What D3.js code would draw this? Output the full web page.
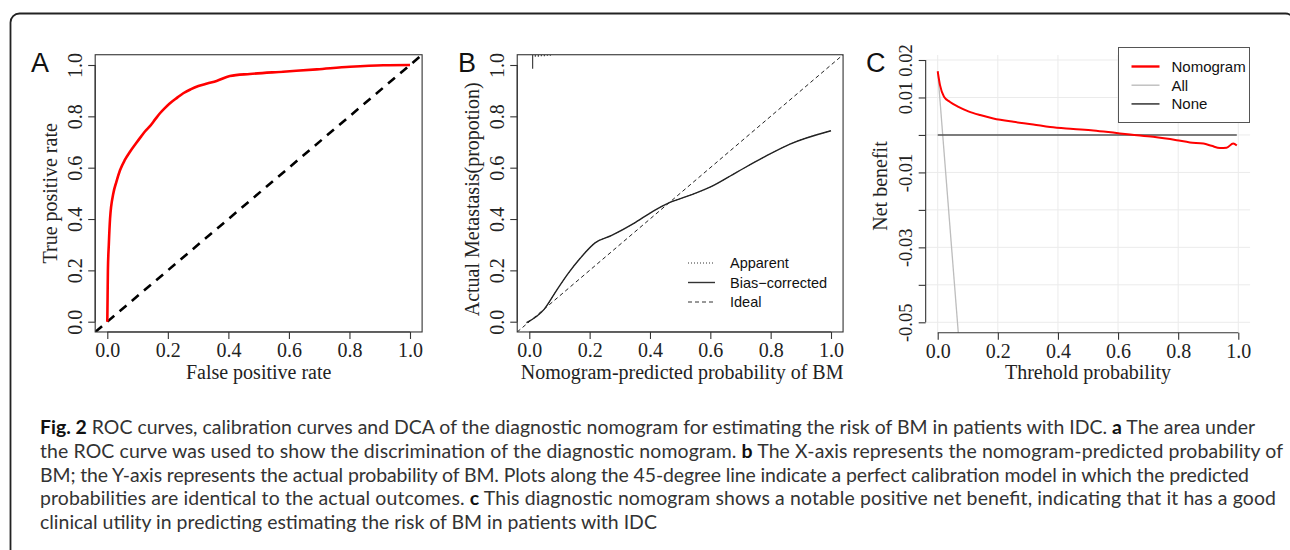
<!DOCTYPE html>
<html>
<head>
<meta charset="utf-8">
<script src="https://cdn.jsdelivr.net/npm/d3@7"></script>
<style>
  html, body { margin: 0; padding: 0; background: #fff; }
  svg { display: block; }
</style>
</head>
<body>
<div id="chart"></div>
<script>
// ---- data ----
const rocFpr = [0, 0.001, 0.002, 0.005, 0.009, 0.02, 0.03, 0.042, 0.058, 0.075, 0.095, 0.112, 0.125, 0.141, 0.158, 0.174, 0.19, 0.207, 0.23, 0.251, 0.275, 0.301, 0.33, 0.361, 0.405, 0.471, 0.581, 0.692, 0.802, 0.912, 1.0];
const rocTpr = [0, 0.10, 0.20, 0.30, 0.40, 0.50, 0.545, 0.590, 0.630, 0.662, 0.695, 0.722, 0.742, 0.762, 0.788, 0.812, 0.832, 0.851, 0.872, 0.890, 0.905, 0.918, 0.928, 0.938, 0.957, 0.965, 0.974, 0.983, 0.993, 0.999, 1.0];

const calPred = [-0.009, 0.049, 0.091, 0.129, 0.168, 0.218, 0.273, 0.345, 0.411, 0.461, 0.522, 0.599, 0.687, 0.776, 0.864, 1.0];
const calBias = [-0.004, 0.048, 0.123, 0.188, 0.246, 0.307, 0.336, 0.382, 0.431, 0.462, 0.488, 0.524, 0.582, 0.640, 0.692, 0.744];
const calApparent = [-0.004, 0.048, 0.123, 0.188, 0.246, 0.307, 0.336, 0.382, 0.431, 0.462, 0.488, 0.524, 0.582, 0.640, 0.692, 0.744];
const rugPred = [0.011, 0.02, 0.03, 0.04, 0.05, 0.06, 0.07];
const rugCount = [14, 2, 2, 1.5, 1.5, 1, 1];

const dcaThreshold = [0, 0.0077, 0.021, 0.041, 0.069, 0.102, 0.141, 0.185, 0.252, 0.318, 0.374, 0.451, 0.518, 0.595, 0.640, 0.717, 0.795, 0.839, 0.884, 0.911, 0.939, 0.961, 0.983, 0.995];
const dcaNomogram = [0.0170, 0.0133, 0.0102, 0.0088, 0.0075, 0.0063, 0.0053, 0.0044, 0.0035, 0.0028, 0.0021, 0.0016, 0.0012, 0.0005, 0.0001, -0.0005, -0.0014, -0.0020, -0.0023, -0.0029, -0.0035, -0.0034, -0.0023, -0.0028];
const dcaAllX = [0, 0.0685];
const dcaAllY = [0.017, -0.0528];
const dcaNoneX = [0, 0.995];
const dcaNoneY = [0, 0];

const probTicks = [0, 0.2, 0.4, 0.6, 0.8, 1.0];
const nbTicks = [0.02, 0.01, 0, -0.01, -0.02, -0.03, -0.04, -0.05];
const nbLabels = { "2": "0.02", "1": "0.01", "-1": "-0.01", "-3": "-0.03", "-5": "-0.05" };

const calLegend = ["Apparent", "Bias\u2212corrected", "Ideal"];
const dcaLegend = ["Nomogram", "All", "None"];

const captionLines = [
  [["Fig. 2", true], [" ROC curves, calibration curves and DCA of the diagnostic nomogram for estimating the risk of BM in patients with IDC. ", false], ["a", true], [" The area under", false]],
  [["the ROC curve was used to show the discrimination of the diagnostic nomogram. ", false], ["b", true], [" The X-axis represents the nomogram-predicted probability of", false]],
  [["BM; the Y-axis represents the actual probability of BM. Plots along the 45-degree line indicate a perfect calibration model in which the predicted", false]],
  [["probabilities are identical to the actual outcomes. ", false], ["c", true], [" This diagnostic nomogram shows a notable positive net benefit, indicating that it has a good", false]],
  [["clinical utility in predicting estimating the risk of BM in patients with IDC", false]]
];
const captionEnds = [1255, 1283, 1249, 1276, null];

// ---- layout ----
const W = 1290, H = 550;
const serif = "'Liberation Serif', 'Times New Roman', serif";
const sans = "'Liberation Sans', Arial, sans-serif";
const fs = 20;

const svg = d3.select("#chart").append("svg")
  .attr("width", W).attr("height", H)
  .attr("viewBox", [0, 0, W, H]);

svg.append("rect")
  .attr("x", 10.5).attr("y", 13.5)
  .attr("width", 1284).attr("height", 700)
  .attr("rx", 9)
  .attr("fill", "none")
  .attr("stroke", "#222")
  .attr("stroke-width", 1.8);

const defs = svg.append("defs");

// R-like axis: ticks outward, line from first to last tick
function rAxis(g, axis, ticks, scale, orient, size = fs) {
  g.call(axis.tickValues(ticks).tickSizeOuter(0).tickSize(7));
  g.select(".domain").remove();
  g.selectAll("line").attr("stroke", "#333").attr("stroke-width", 1.1);
  const ext = d3.extent(ticks.map(scale));
  const l = g.append("line").attr("stroke", "#333").attr("stroke-width", 1.1);
  if (orient === "bottom") l.attr("x1", ext[0]).attr("x2", ext[1]);
  else l.attr("y1", ext[0]).attr("y2", ext[1]);
  g.selectAll("text")
    .attr("font-family", serif).attr("font-size", size).attr("fill", "#222");
  if (orient === "bottom") {
    g.selectAll("text").attr("y", 25).attr("dy", 0);
  } else {
    g.selectAll("text")
      .attr("transform", "rotate(-90)")
      .attr("x", 0).attr("y", -13.5).attr("dy", 0)
      .attr("text-anchor", "middle");
  }
  g.attr("font-family", null).attr("font-size", null);
}

function panel(opts) {
  const { top, bottom, left, right, id } = opts;
  const g = svg.append("g");
  defs.append("clipPath").attr("id", id)
    .append("rect").attr("x", left).attr("y", top)
    .attr("width", right - left).attr("height", bottom - top);
  return g;
}

function titles(g, letter, letterX, xTitle, xMid, yTitle, axisX, yMid) {
  g.append("text").attr("x", letterX).attr("y", 72)
    .attr("font-family", sans).attr("font-size", 27).attr("fill", "#111").text(letter);
  g.append("text").attr("x", xMid).attr("y", 379)
    .attr("text-anchor", "middle")
    .attr("font-family", serif).attr("font-size", fs).attr("fill", "#222").text(xTitle);
  g.append("text")
    .attr("transform", `translate(${axisX - 38.5},${yMid}) rotate(-90)`)
    .attr("text-anchor", "middle")
    .attr("font-family", serif).attr("font-size", fs).attr("fill", "#222").text(yTitle);
}

// ---- panel A: ROC ----
{
  const x = d3.scaleLinear().domain([0, 1]).range([107.3, 410]);
  const y = d3.scaleLinear().domain([0, 1]).range([321.7, 65]);
  const left = x(-0.04), right = x(1.04), top = y(1.04), bottom = y(-0.04);
  const g = panel({ top, bottom, left, right, id: "clipA" });

  const plot = g.append("g").attr("clip-path", "url(#clipA)");
  plot.append("path")
    .datum([[-0.04, -0.04], [1.04, 1.04]])
    .attr("d", d3.line().x(d => x(d[0])).y(d => y(d[1])))
    .attr("fill", "none").attr("stroke", "#000")
    .attr("stroke-width", 2.6).attr("stroke-dasharray", "9,7");
  plot.append("path")
    .datum(d3.zip(rocFpr, rocTpr))
    .attr("d", d3.line().x(d => x(d[0])).y(d => y(d[1])).curve(d3.curveMonotoneX))
    .attr("fill", "none").attr("stroke", "#ff0000").attr("stroke-width", 2.6);

  g.append("rect").attr("x", left).attr("y", top)
    .attr("width", right - left).attr("height", bottom - top)
    .attr("fill", "none").attr("stroke", "#333").attr("stroke-width", 1.1);

  g.append("g").attr("transform", `translate(0,${bottom})`)
    .call(s => rAxis(s, d3.axisBottom(x).tickFormat(d3.format(".1f")), probTicks, x, "bottom"));
  g.append("g").attr("transform", `translate(${left},0)`)
    .call(s => rAxis(s, d3.axisLeft(y).tickFormat(d3.format(".1f")), probTicks, y, "left"));

  titles(g, "A", 31, "False positive rate", (x(0) + x(1)) / 2, "True positive rate", left, (top + bottom) / 2);
}

// ---- panel B: calibration ----
{
  const x = d3.scaleLinear().domain([0, 1]).range([529.3, 831]);
  const y = d3.scaleLinear().domain([0, 1]).range([321.7, 65]);
  const left = x(-0.04), right = x(1.04), top = y(1.04), bottom = y(-0.04);
  const g = panel({ top, bottom, left, right, id: "clipB" });
  const plot = g.append("g").attr("clip-path", "url(#clipB)");

  plot.append("path")
    .datum([[-0.04, -0.04], [1.04, 1.04]])
    .attr("d", d3.line().x(d => x(d[0])).y(d => y(d[1])))
    .attr("fill", "none").attr("stroke", "#222")
    .attr("stroke-width", 1).attr("stroke-dasharray", "4,3");

  const line = d3.line().x(d => x(d[0])).y(d => y(d[1])).curve(d3.curveMonotoneX);
  plot.append("path").datum(d3.zip(calPred, calApparent))
    .attr("d", line).attr("fill", "none").attr("stroke", "#444")
    .attr("stroke-width", 1).attr("stroke-dasharray", "1,2");
  plot.append("path").datum(d3.zip(calPred, calBias))
    .attr("d", line).attr("fill", "none").attr("stroke", "#222").attr("stroke-width", 1.4);

  // spike histogram of predictions along the top
  const h = d3.scaleLinear().domain([0, d3.max(rugCount)]).range([0, 14]);
  plot.selectAll("line.rug").data(d3.zip(rugPred, rugCount)).join("line")
    .attr("class", "rug")
    .attr("x1", d => x(d[0])).attr("x2", d => x(d[0]))
    .attr("y1", top).attr("y2", d => top + h(d[1]))
    .attr("stroke", "#444").attr("stroke-width", 1.2);

  g.append("rect").attr("x", left).attr("y", top)
    .attr("width", right - left).attr("height", bottom - top)
    .attr("fill", "none").attr("stroke", "#333").attr("stroke-width", 1.1);

  g.append("g").attr("transform", `translate(0,${bottom})`)
    .call(s => rAxis(s, d3.axisBottom(x).tickFormat(d3.format(".1f")), probTicks, x, "bottom"));
  g.append("g").attr("transform", `translate(${left},0)`)
    .call(s => rAxis(s, d3.axisLeft(y).tickFormat(d3.format(".1f")), probTicks, y, "left"));

  const lg = g.append("g");
  const dashes = ["1,2", null, "4,3"];
  calLegend.forEach((t, i) => {
    const ly = 263 + i * 19.5;
    lg.append("line").attr("x1", 688).attr("x2", 715).attr("y1", ly).attr("y2", ly)
      .attr("stroke", "#333").attr("stroke-width", i === 1 ? 1.4 : 1)
      .attr("stroke-dasharray", dashes[i]);
    lg.append("text").attr("x", 730).attr("y", ly + 5)
      .attr("font-family", sans).attr("font-size", 14.5).attr("fill", "#111").text(t);
  });

  titles(g, "B", 458, "Nomogram-predicted probability of BM", (x(0) + x(1)) / 2 + 2,
    "Actual Metastasis(propotion)", left, (top + bottom) / 2 + 6);
}

// ---- panel C: decision curve ----
{
  const x = d3.scaleLinear().domain([0, 1]).range([937.7, 1238.3]);
  const y = d3.scaleLinear().domain([-0.05, 0.02]).range([322.3, 60]);
  const left = x(-0.04), right = x(1.04), top = 55, bottom = y(-0.0528);
  const g = panel({ top, bottom, left, right, id: "clipC" });
  const plot = g.append("g").attr("clip-path", "url(#clipC)");

  plot.selectAll("line.gx").data(probTicks).join("line")
    .attr("x1", d => x(d)).attr("x2", d => x(d)).attr("y1", top).attr("y2", bottom)
    .attr("stroke", "#ebebeb").attr("stroke-width", 1);
  plot.selectAll("line.gy").data(nbTicks).join("line")
    .attr("y1", d => y(d)).attr("y2", d => y(d)).attr("x1", left).attr("x2", right)
    .attr("stroke", "#ebebeb").attr("stroke-width", 1);

  const line = d3.line().x(d => x(d[0])).y(d => y(d[1]));
  plot.append("path").datum(d3.zip(dcaAllX, dcaAllY))
    .attr("d", line).attr("fill", "none").attr("stroke", "#bdbdbd").attr("stroke-width", 1.3);
  plot.append("path").datum(d3.zip(dcaNoneX, dcaNoneY))
    .attr("d", line).attr("fill", "none").attr("stroke", "#555").attr("stroke-width", 1.5);
  plot.append("path").datum(d3.zip(dcaThreshold, dcaNomogram))
    .attr("d", line.curve(d3.curveMonotoneX)).attr("fill", "none")
    .attr("stroke", "#ff0000").attr("stroke-width", 2);

  g.append("g").attr("transform", `translate(0,${bottom})`)
    .call(s => rAxis(s, d3.axisBottom(x).tickFormat(d3.format(".1f")), probTicks, x, "bottom"));
  g.append("g").attr("transform", `translate(${left},0)`)
    .call(s => rAxis(s, d3.axisLeft(y).tickFormat(d => nbLabels[String(Math.round(d * 100))] || ""), nbTicks, y, "left", 18.5));

  // legend
  const lg = g.append("g");
  lg.append("rect").attr("x", 1118.5).attr("y", 47.5).attr("width", 131).attr("height", 75)
    .attr("fill", "#fff").attr("stroke", "#555").attr("stroke-width", 1);
  const cols = ["#ff0000", "#bdbdbd", "#555"];
  const widths = [2.4, 1.4, 1.8];
  dcaLegend.forEach((t, i) => {
    const ly = 66.5 + i * 18.7;
    lg.append("line").attr("x1", 1131.5).attr("x2", 1159.5).attr("y1", ly).attr("y2", ly)
      .attr("stroke", cols[i]).attr("stroke-width", widths[i]);
    lg.append("text").attr("x", 1171.5).attr("y", ly + 5.5)
      .attr("font-family", sans).attr("font-size", 15).attr("fill", "#111").text(t);
  });

  titles(g, "C", 866, "Threhold probability", (x(0) + x(1)) / 2, "Net benefit", left, 186);
}

// ---- caption ----
{
  const cap = svg.append("g")
    .attr("font-family", "Lato, 'Open Sans', sans-serif")
    .attr("fill", "#333");
  const lines = captionLines.map((parts, i) => {
    const t = cap.append("text").attr("x", 40).attr("y", 434 + i * 23.8).attr("font-size", 17);
    parts.forEach(([s, b]) => t.append("tspan").attr("font-weight", b ? "bold" : null).attr("fill", b ? "#111" : null).text(s));
    return t;
  });
  // fit the font size so the first line spans its measured width
  const w0 = lines[0].node().getComputedTextLength();
  const size = 17 * 1215 / w0;
  lines.forEach((t, i) => {
    t.attr("font-size", size);
    if (captionEnds[i]) t.attr("textLength", captionEnds[i] - 40).attr("lengthAdjust", "spacing");
  });
}
</script>
</body>
</html>
